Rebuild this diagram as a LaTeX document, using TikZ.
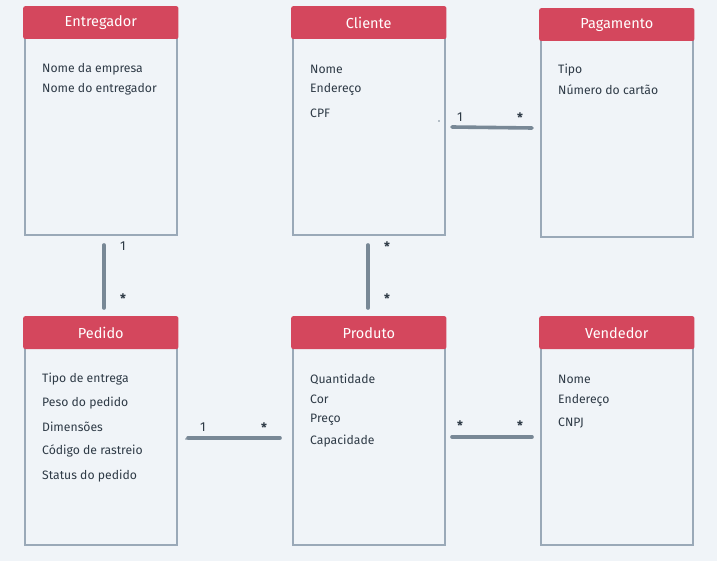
\documentclass[tikz,border=0pt]{standalone}
\usepackage{fontspec}
\setmainfont{Fira Sans}
\definecolor{bg}{HTML}{F0F4F8}
\definecolor{hdr}{HTML}{D4475D}
\definecolor{brd}{HTML}{9AA9B8}
\definecolor{lnk}{HTML}{788896}
\definecolor{txt}{HTML}{2E3A46}
\begin{document}
\begin{tikzpicture}[x=1pt,y=-1pt,
  box/.style={draw=brd,line width=1.6pt,minimum width=152pt,minimum height=227pt,anchor=north west,inner sep=0pt},
  title/.style={text=white,font=\fontsize{14.5}{16}\selectfont},
  attr/.style={text=txt,font=\fontsize{12.2}{14}\selectfont,anchor=west,inner sep=0pt},
  link/.style={draw=lnk,line width=3.6pt,line cap=round},
  mult/.style={text=txt,font=\fontsize{13}{14}\selectfont,inner sep=0pt},
  star/.style={text=txt,font=\bfseries\fontsize{13}{14}\selectfont,inner sep=0pt},
  dotmark/.style={fill=lnk,circle,inner sep=0pt,minimum size=1.8pt}]
\useasboundingbox (0,0) rectangle (717,561);
\fill[bg] (0,0) rectangle (717,561);

% boxes
\node[box] (ent) at (24,7) {};
\node[box] (cli) at (292,7) {};
\node[box] (pag) at (540,9) {};
\node[box] (ped) at (24,317) {};
\node[box] (pro) at (292,317) {};
\node[box] (ven) at (540,317) {};

\foreach \b/\t in {ent/Entregador,cli/Cliente,pag/Pagamento,ped/Pedido,pro/Produto,ven/Vendedor}{
  \fill[hdr,rounded corners=2pt] ([xshift=-0.8pt,yshift=0.8pt]\b.north west) rectangle ([xshift=0.8pt,yshift=-32pt]\b.north east);
  \node[title] (\b-t) at ([yshift=-16pt]\b.north) {\t};
}

% attributes
\node[attr] (ent-a1) at (42,69) {Nome da empresa};
\node[attr] (ent-a2) at (42,89) {Nome do entregador};

\node[attr] (cli-a1) at (310,69) {Nome};
\node[attr] (cli-a2) at (310,89) {Endereço};
\node[attr] (cli-a3) at (310,113) {CPF};

\node[attr] (pag-a1) at (558,70) {Tipo};
\node[attr] (pag-a2) at (558,90) {Número do cartão};

\node[attr] (ped-a1) at (42,379) {Tipo de entrega};
\node[attr] (ped-a2) at (42,403) {Peso do pedido};
\node[attr] (ped-a3) at (42,427) {Dimensões};
\node[attr] (ped-a4) at (42,451) {Código de rastreio};
\node[attr] (ped-a5) at (42,476) {Status do pedido};

\node[attr] (pro-a1) at (310,379) {Quantidade};
\node[attr] (pro-a2) at (310,399) {Cor};
\node[attr] (pro-a3) at (310,420) {Preço};
\node[attr] (pro-a4) at (310,441) {Capacidade};

\node[attr] (ven-a1) at (558,379) {Nome};
\node[attr] (ven-a2) at (558,400) {Endereço};
\node[attr] (ven-a3) at (558,423) {CNPJ};

% connector end points
\coordinate (cp1) at (452,127);
\coordinate (cp2) at (532,128);
\coordinate (ep1) at (104,245);
\coordinate (ep2) at (104,308);
\coordinate (cr1) at (368,245);
\coordinate (cr2) at (368,308);
\coordinate (pp1) at (188,438);
\coordinate (pp2) at (280,438);
\coordinate (pv1) at (452,437);
\coordinate (pv2) at (532,437);

\draw[link] (cp1) -- (cp2);
\draw[link] (ep1) -- (ep2);
\draw[link] (cr1) -- (cr2);
\draw[link] (pp1) -- (pp2);
\draw[link] (pv1) -- (pv2);

% multiplicities
\node[mult] (m1) at (460,117) {1};
\node[star] (m2) at (520,118) {*};
\node[mult] (m3) at (123,246) {1};
\node[star] (m4) at (123,299) {*};
\node[star] (m5) at (387,247) {*};
\node[star] (m6) at (387,299) {*};
\node[mult] (m7) at (203,427) {1};
\node[star] (m8) at (264,428) {*};
\node[star] (m9) at (460,426) {*};
\node[star] (m10) at (520,426) {*};

% stray dots
\node[dotmark] (d1) at (439,121) {};
\node[dotmark] (d2) at (186,439) {};
\end{tikzpicture}
\end{document}
